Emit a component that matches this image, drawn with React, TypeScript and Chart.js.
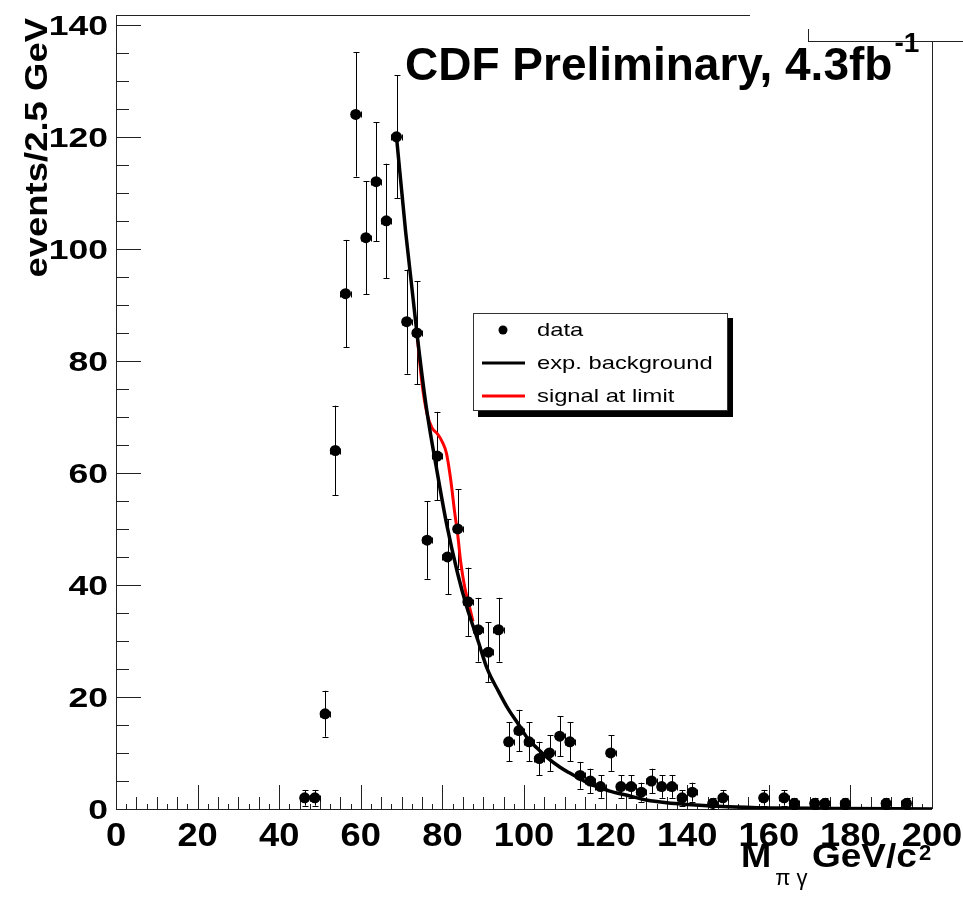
import React, { useEffect, useRef } from "react";
import { Chart, registerables } from "chart.js";

Chart.register(...registerables);

// ---- data ----
const dataX = [46.25, 48.75, 51.25, 53.75, 56.25, 58.75, 61.25, 63.75, 66.25, 68.75, 71.25, 73.75, 76.25, 78.75, 81.25, 83.75, 86.25, 88.75, 91.25, 93.75, 96.25, 98.75, 101.25, 103.75, 106.25, 108.75, 111.25, 113.75, 116.25, 118.75, 121.25, 123.75, 126.25, 128.75, 131.25, 133.75, 136.25, 138.75, 141.25, 146.25, 148.75, 158.75, 163.75, 166.25, 171.25, 173.75, 178.75, 188.75, 193.75];
const dataY = [2, 2, 17, 64, 92, 124, 102, 112, 105, 120, 87, 85, 48, 63, 45, 50, 37, 32, 28, 32, 12, 14, 12, 9, 10, 13, 12, 6, 5, 4, 10, 4, 4, 3, 5, 4, 4, 2, 3, 1, 2, 2, 2, 1, 1, 1, 1, 1, 1];
const dataErr = [1.4, 1.4, 4.1, 8, 9.6, 11.1, 10.1, 10.6, 10.2, 11, 9.3, 9.2, 6.9, 7.9, 6.7, 7.1, 6.1, 5.7, 5.3, 5.7, 3.5, 3.7, 3.5, 3, 3.2, 3.6, 3.5, 2.4, 2.2, 2, 3.2, 2, 2, 1.7, 2.2, 2, 2, 1.4, 1.7, 1, 1.4, 1.4, 1.4, 1, 1, 1, 1, 1, 1];
const binHalfWidth = 1.25;

const bgX = [68.75, 71, 73.75, 76, 78.75, 81, 83.75, 86, 88.75, 91, 93.75, 96, 98.75, 101, 103.75, 106, 108.75, 111, 113.75, 116, 118.75, 121, 125, 130, 135, 140, 150, 160, 175, 200];
const bgY = [120, 103, 85, 72, 60, 51, 42, 36, 30, 25, 21, 18, 15, 12.5, 10.5, 9, 7.5, 6.5, 5.4, 4.5, 3.8, 3.2, 2.5, 1.6, 1.1, 0.8, 0.4, 0.2, 0.1, 0];

const sigX = [73.75, 75, 76.25, 77.5, 78.75, 80, 81, 82, 83, 83.75, 84.5, 85.5, 86.5, 87.5];
const sigY = [85, 76, 70.5, 68, 67, 65.5, 63.5, 59, 53, 49, 44, 39.5, 36.5, 33.5];

const xTickLabels = [0, 20, 40, 60, 80, 100, 120, 140, 160, 180, 200];
const yTickLabels = [0, 20, 40, 60, 80, 100, 120, 140];
const legendLabels = ["data", "exp. background", "signal at limit"];
const titleText = "CDF Preliminary, 4.3fb";
const titleSup = "-1";
const yTitle = "events/2.5 GeV";
const xTitleMain = "M";
const xTitleSub = "\u03c0 \u03b3";
const xTitleUnit = "GeV/c";
const xTitleSup = "2";

const FONT = '"Liberation Sans", Arial, Helvetica, sans-serif';

function drawText(ctx: CanvasRenderingContext2D, s: string, x: number, y: number, font: string, align: string, sx = 1) {
  ctx.save();
  ctx.font = font;
  ctx.textBaseline = "alphabetic";
  ctx.textAlign = "left";
  const w = ctx.measureText(s).width * sx;
  const x0 = align === "right" ? x - w : align === "center" ? x - w / 2 : x;
  ctx.translate(x0, y);
  ctx.scale(sx, 1);
  ctx.fillText(s, 0, 0);
  ctx.restore();
  return w;
}

function seg(ctx: CanvasRenderingContext2D, x1: number, y1: number, x2: number, y2: number) {
  ctx.beginPath();
  ctx.moveTo(x1, y1);
  ctx.lineTo(x2, y2);
  ctx.stroke();
}

const rootPlugin = {
  id: "rootStyle",
  beforeDatasetsDraw(chart: any) {
    const ctx: CanvasRenderingContext2D = chart.ctx;
    const xs = chart.scales.x;
    const ys = chart.scales.y;
    const { left: L, right: R, top: T, bottom: B } = chart.chartArea;
    ctx.save();
    ctx.strokeStyle = "#222";
    ctx.lineWidth = 1;
    // frame
    seg(ctx, Math.round(L) + 0.5, T, Math.round(L) + 0.5, B);
    seg(ctx, L, Math.round(B) + 0.5, R, Math.round(B) + 0.5);
    seg(ctx, L, Math.round(T) + 0.5, 750, Math.round(T) + 0.5);
    seg(ctx, Math.round(R) + 0.5, 41, Math.round(R) + 0.5, B);
    seg(ctx, 808, 41.5, 963, 41.5);
    seg(ctx, 808.5, 29, 808.5, 41);
    // x ticks
    for (let v = 0; v <= 200; v += 2.5) {
      const px = Math.round(xs.getPixelForValue(v)) + 0.5;
      const len = v % 20 === 0 ? 24 : v % 5 === 0 ? 12 : 5;
      seg(ctx, px, B, px, B - len);
    }
    // y ticks
    for (let v = 0; v <= 140; v += 5) {
      const py = Math.round(ys.getPixelForValue(v)) + 0.5;
      const len = v % 20 === 0 ? 25 : 13;
      seg(ctx, L, py, L + len, py);
    }
    // error bars
    ctx.strokeStyle = "#000";
    for (let i = 0; i < dataX.length; i++) {
      const px = Math.round(xs.getPixelForValue(dataX[i])) + 0.5;
      const py = ys.getPixelForValue(dataY[i]);
      const pt = ys.getPixelForValue(dataY[i] + dataErr[i]);
      const pb = ys.getPixelForValue(Math.max(0, dataY[i] - dataErr[i]));
      seg(ctx, px, pt, px, pb);
      seg(ctx, px - 3, Math.round(pt) + 0.5, px + 3, Math.round(pt) + 0.5);
      seg(ctx, px - 3, Math.round(pb) + 0.5, px + 3, Math.round(pb) + 0.5);
      const pl = xs.getPixelForValue(dataX[i] - binHalfWidth);
      const pr = xs.getPixelForValue(dataX[i] + binHalfWidth);
      const yy = Math.round(py) + 0.5;
      seg(ctx, pl, yy, pr, yy);
      seg(ctx, Math.round(pl) + 0.5, yy - 3, Math.round(pl) + 0.5, yy + 3);
      seg(ctx, Math.round(pr) + 0.5, yy - 3, Math.round(pr) + 0.5, yy + 3);
    }
    ctx.restore();
  },
  afterDraw(chart: any) {
    const ctx: CanvasRenderingContext2D = chart.ctx;
    const xs = chart.scales.x;
    const ys = chart.scales.y;
    ctx.save();
    ctx.fillStyle = "#000";
    // tick labels
    for (const v of xTickLabels) {
      drawText(ctx, String(v), xs.getPixelForValue(v), 846, `bold 33px ${FONT}`, "center", 1.1);
    }
    for (const v of yTickLabels) {
      drawText(ctx, String(v), 108, ys.getPixelForValue(v) + 10, `bold 28px ${FONT}`, "right", 1.27);
    }
    // y title
    ctx.save();
    ctx.translate(47, 18);
    ctx.rotate(-Math.PI / 2);
    drawText(ctx, yTitle, 0, 0, `bold 32px ${FONT}`, "right", 1.14);
    ctx.restore();
    // x title
    let x = 741;
    x += drawText(ctx, xTitleMain, x, 867, `bold 33px ${FONT}`, "left", 1.1);
    drawText(ctx, xTitleSub, x + 4, 885, `22px ${FONT}`, "left", 1.0);
    drawText(ctx, xTitleUnit, 812, 867, `bold 33px ${FONT}`, "left", 1.12);
    drawText(ctx, xTitleSup, 919, 860, `bold 22px ${FONT}`, "left", 1.0);
    // title
    const tw = drawText(ctx, titleText, 405, 80, `bold 46px ${FONT}`, "left", 1.0);
    drawText(ctx, titleSup, 405 + tw + 2, 52, `bold 28px ${FONT}`, "left", 1.0);
    // legend
    ctx.fillStyle = "#000";
    ctx.fillRect(478, 318, 255, 99);
    ctx.fillStyle = "#fff";
    ctx.fillRect(473, 313, 255, 98);
    ctx.strokeStyle = "#333";
    ctx.lineWidth = 1;
    ctx.strokeRect(473.5, 313.5, 254, 97);
    ctx.fillStyle = "#000";
    ctx.beginPath();
    ctx.arc(503, 330, 4.5, 0, Math.PI * 2);
    ctx.fill();
    ctx.lineWidth = 3;
    ctx.strokeStyle = "#000";
    seg(ctx, 482, 363, 525, 363);
    ctx.strokeStyle = "#ff0000";
    seg(ctx, 482, 396, 525, 396);
    const lf = `19px ${FONT}`;
    drawText(ctx, legendLabels[0], 537, 336, lf, "left", 1.25);
    drawText(ctx, legendLabels[1], 537, 369, lf, "left", 1.25);
    drawText(ctx, legendLabels[2], 537, 402, lf, "left", 1.25);
    ctx.restore();
  },
};

export default function App() {
  const ref = useRef<HTMLCanvasElement | null>(null);
  useEffect(() => {
    if (!ref.current) return;
    const chart = new Chart(ref.current, {
      type: "scatter",
      data: {
        datasets: [
          {
            label: legendLabels[0],
            data: dataX.map((x, i) => ({ x, y: dataY[i] })),
            pointRadius: 5.5,
            pointBorderWidth: 0,
            pointBackgroundColor: "#000",
            pointBorderColor: "#000",
            showLine: false,
            order: 0,
          } as any,
          {
            label: legendLabels[1],
            data: bgX.map((x, i) => ({ x, y: bgY[i] })),
            showLine: true,
            borderColor: "#000",
            borderWidth: 3.5,
            pointRadius: 0,
            cubicInterpolationMode: "monotone",
            fill: false,
            order: 1,
          } as any,
          {
            label: legendLabels[2],
            data: sigX.map((x, i) => ({ x, y: sigY[i] })),
            showLine: true,
            borderColor: "#ff0000",
            borderWidth: 3,
            pointRadius: 0,
            cubicInterpolationMode: "monotone",
            fill: false,
            order: 2,
          } as any,
        ],
      },
      options: {
        responsive: false,
        devicePixelRatio: 1,
        animation: false,
        layout: { padding: { left: 116, right: 31, top: 15, bottom: 89 } },
        scales: {
          x: { type: "linear", min: 0, max: 200, display: false },
          y: { type: "linear", min: 0, max: 141.75, display: false },
        },
        plugins: { legend: { display: false }, tooltip: { enabled: false } },
        events: [],
      } as any,
      plugins: [rootPlugin],
    });
    return () => chart.destroy();
  }, []);
  return (
    <div style={{ position: "fixed", left: 0, top: 0, width: 963, height: 898, background: "#fff" }}>
      <canvas ref={ref} width={963} height={898} style={{ display: "block" }} />
    </div>
  );
}
